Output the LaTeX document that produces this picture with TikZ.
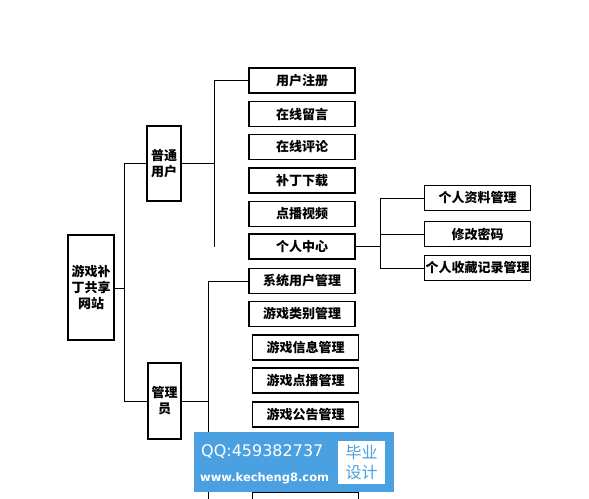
\documentclass[tikz,border=0pt]{standalone}
\usepackage{fontspec}
\newfontfamily\cjk{Noto Sans CJK SC}
\newfontfamily\wmfont{DejaVu Sans}
\usetikzlibrary{positioning}

\definecolor{wmblue}{RGB}{74,160,224}

\tikzset{
  box/.style={draw, line width=1.2pt, minimum width=106pt, minimum height=25pt, inner sep=0pt, font=\cjk\bfseries\fontsize{13}{15}\selectfont},
  tallbox/.style={draw, line width=1.2pt, inner sep=0pt, align=center, font=\cjk\bfseries\fontsize{13}{16}\selectfont},
  link/.style={line width=1pt}
}

\begin{document}
\begin{tikzpicture}[x=1pt,y=-1pt]
    \useasboundingbox (0,0) rectangle (589,498);
    % left part
    \node[tallbox, minimum width=46pt, minimum height=105pt] (site) at (91,287.5) {游戏补\\丁共享\\网站};
    \node[tallbox, minimum width=34pt, minimum height=75pt] (user) at (164,163.5) {普通\\用户};
    \node[tallbox, minimum width=33pt, minimum height=76pt] (admin) at (164.5,401) {管理\\员};
    \coordinate (trunk) at (124,288);
    \draw[link] (site.east |- trunk) -- (trunk);
    \draw[link] (trunk |- user.west) -- (trunk |- admin.west);
    \draw[link] (trunk |- user.west) -- (user.west);
    \draw[link] (trunk |- admin.west) -- (admin.west);
    % user items
    \foreach \name/\txt/\y in {u1/用户注册/80.5, u2/在线留言/114, u3/在线评论/147, u4/补丁下载/180.5, u5/点播视频/214, u6/个人中心/246.5}{\node[box] (\name) at (302,\y) {\txt};}
    \coordinate (ubus) at (214,163.5);
    \draw[line width=1.8pt] (user.east) -- (ubus);
    \draw[link] (ubus |- u1.west) -- (ubus |- u6.west);
    \foreach \name in {u1,...,u6}{\draw[link] (ubus |- \name.west) -- (\name.west);}
    % personal centre
    \foreach \name/\txt/\y in {p1/个人资料管理/198, p2/修改密码/234, p3/个人收藏记录管理/268}{\node[box] (\name) at (477.5,\y) {\txt};}
    \coordinate (pbus) at (380,249);
    \draw[link] (u6.east) -- (pbus |- u6.east);
    \draw[link] (pbus |- p1.west) -- (pbus |- p3.west);
    \foreach \name in {p1,p2,p3}{\draw[link] (pbus |- \name.west) -- (\name.west);}
    % admin items
    \foreach \name/\txt/\x/\y in {a1/系统用户管理/302/281, a2/游戏类别管理/302/314, a3/游戏信息管理/305.5/347.5, a4/游戏点播管理/305.5/380.5, a5/游戏公告管理/305.5/414.5, a6//305.5/504.5}{\node[box] (\name) at (\x,\y) {\txt};}
    \coordinate (abus) at (208,400);
    \draw[link] (admin.east) -- (abus |- admin.east);
    \draw[link] (abus |- a1.west) -- (abus |- a6.west);
    \foreach \name in {a1,...,a6}{\draw[link] (abus |- \name.west) -- (\name.west);}
    % watermark
    \node[fill=wmblue, minimum width=200pt, minimum height=60pt, inner sep=0pt] (mark) at (294,462) {};
    \node[fill=white, minimum width=47pt, minimum height=43pt, inner sep=0pt, font=\cjk\fontsize{16}{20}\selectfont, text=wmblue, align=center] (tag) at (361.5,462.5) {毕业\\设计};
    \node[text=white, font=\wmfont\fontsize{16}{18}\selectfont, anchor=west, inner sep=0pt] (qq) at (201,452) {QQ:459382737};
    \node[text=white, font=\wmfont\bfseries\fontsize{11.5}{14}\selectfont, anchor=west, inner sep=0pt] (web) at (200,478) {www.kecheng8.com};
\end{tikzpicture}
\end{document}
